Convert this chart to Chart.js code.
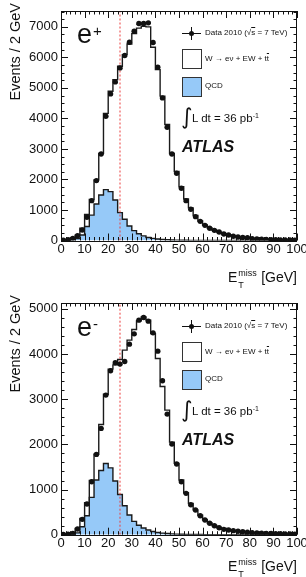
<!DOCTYPE html>
<html>
<head>
<meta charset="utf-8">
<script src="https://cdn.jsdelivr.net/npm/chart.js@4.4.1/dist/chart.umd.min.js"></script>
<style>
  body { margin: 0; background: #fff; width: 306px; height: 577px; overflow: hidden;
         font-family: "Liberation Sans", Arial, Helvetica, sans-serif; color: #111; }
  .panel { position: absolute; left: 0; width: 306px; }
  .panel canvas { position: absolute; left: 0; top: 0; }
  .ytitle { position: absolute; left: 7px; top: 3px; font-size: 14.5px; line-height: 16px;
            writing-mode: vertical-rl; transform: rotate(180deg); white-space: nowrap; }
  .xtitle { position: absolute; right: 9px; font-size: 14px; line-height: 16px; white-space: nowrap; }
  .xtitle .ss { position: relative; display: inline-block; width: 20px; height: 10px; }
  .xtitle .sup { position: absolute; left: 1px; top: -7px; font-size: 9px; }
  .xtitle .sub { position: absolute; left: 1px; top: 5px; font-size: 9px; }
  .lep { position: absolute; left: 77px; font-size: 27px; line-height: 27px; }
  .lep sup { font-size: 15px; position: relative; top: -4px; vertical-align: top; margin-left: 1px; }
  .leg { position: absolute; left: 205px; font-size: 8px; line-height: 10px; white-space: nowrap; }
  .box { position: absolute; left: 182px; width: 18px; height: 18px; border: 1px solid #333; }
  .hbar { position: absolute; left: 182px; width: 19px; height: 1px; background: #111; }
  .vbar { position: absolute; left: 191px; width: 1px; height: 13px; background: #111; }
  .dot { position: absolute; left: 189px; width: 5px; height: 5px; border-radius: 50%; background: #111; }
  .int { position: absolute; left: 181px; font-family: "DejaVu Sans", sans-serif; font-size: 22px; line-height: 26px; }
  .lumi { position: absolute; left: 192px; font-size: 11.5px; line-height: 14px; white-space: nowrap; }
  .lumi sup { font-size: 7px; vertical-align: top; position: relative; top: -2px; }
  .atlas { position: absolute; left: 182px; font-size: 16px; line-height: 18px; font-weight: bold; font-style: italic; }
  .ov { text-decoration: overline; }
</style>
</head>
<body>
<div class="panel" id="p1" style="top:0;height:290px">
  <canvas id="c1" width="306" height="290"></canvas>
</div>
<div class="panel" id="p2" style="top:292px;height:285px">
  <canvas id="c2" width="306" height="285"></canvas>
</div>
<script>
// binning of the missing transverse energy axis [GeV]
const binWidth = 2;
const xMin = 0;
const xMax = 100;
const cutValue = 25;

// e+ channel (values per 2 GeV bin, 0-2, 2-4, ... 98-100)
const ePlusData = [10, 30, 70, 160, 344, 760, 1306, 1962, 2836, 4072,
                   4803, 5197, 5656, 6060, 6498, 6858, 7110, 7110, 7131, 6486,
                   5679, 4672, 3711, 2836, 2202, 1711, 1306, 1022, 781, 628,
                   497, 399, 333, 279, 213, 180, 137, 115, 100, 95,
                   60, 50, 40, 35, 30, 25, 20, 18, 15, 12];
const ePlusMC = [10, 30, 80, 170, 400, 850, 1345, 1985, 2855, 4165,
                 4890, 5270, 5710, 6090, 6440, 6780, 6960, 7020, 7000, 6330,
                 5600, 4730, 3800, 2850, 2260, 1760, 1360, 1070, 820, 640,
                 510, 410, 335, 275, 220, 180, 145, 120, 100, 85,
                 70, 58, 48, 40, 33, 27, 22, 18, 15, 12];
const ePlusQCD = [0, 5, 20, 60, 180, 460, 830, 1197, 1492, 1667,
                  1600, 1328, 913, 695, 475, 322, 220, 150, 100, 70,
                  50, 35, 25, 18, 12, 9, 7, 5, 4, 3,
                  2, 2, 1, 1, 1, 0, 0, 0, 0, 0,
                  0, 0, 0, 0, 0, 0, 0, 0, 0, 0];

// e- channel
const eMinusData = [5, 10, 30, 126, 340, 679, 1173, 1778, 2354, 3091,
                    3629, 3806, 3777, 3836, 4219, 4447, 4750, 4809, 4728, 4469,
                    4064, 3407, 2670, 2007, 1564, 1173, 915, 664, 546, 420,
                    325, 252, 199, 155, 119, 104, 90, 75, 65, 55,
                    45, 40, 35, 30, 25, 22, 20, 18, 15, 12];
const eMinusMC = [5, 10, 40, 140, 360, 710, 1200, 1780, 2440, 3110,
                  3666, 3760, 3880, 4086, 4308, 4543, 4735, 4823, 4750, 4455,
                  3900, 3280, 2758, 2050, 1580, 1210, 930, 690, 550, 430,
                  330, 258, 203, 160, 125, 105, 90, 76, 65, 55,
                  46, 40, 34, 29, 25, 22, 19, 16, 14, 12];
const eMinusQCD = [0, 3, 10, 40, 177, 421, 827, 1210, 1420, 1575,
                   1480, 1190, 890, 640, 435, 296, 208, 148, 103, 70,
                   50, 35, 25, 18, 12, 9, 7, 5, 4, 3,
                   2, 2, 1, 1, 1, 0, 0, 0, 0, 0,
                   0, 0, 0, 0, 0, 0, 0, 0, 0, 0];

// tick labels
const xTicks = [0, 10, 20, 30, 40, 50, 60, 70, 80, 90, 100];
const ePlusYTicks = [0, 1000, 2000, 3000, 4000, 5000, 6000, 7000];
const eMinusYTicks = [0, 1000, 2000, 3000, 4000, 5000];

const font = "'Liberation Sans', Arial, Helvetica, sans-serif";

// histogram outline: one point at each lower bin edge, closed at xMax
function histPoints(values) {
    const pts = [{ x: xMin, y: 0 }];
    values.forEach((v, i) => pts.push({ x: xMin + i * binWidth, y: v }));
    pts.push({ x: xMax, y: 0 });
    return pts;
}

function dataPoints(values) {
    return values.map((v, i) => ({ x: xMin + (i + 0.5) * binWidth, y: v }));
}

// frame with inward ticks on all four sides, like the ROOT style
const frameTicks = {
    id: 'frameTicks',
    afterDatasetsDraw(chart, args, opts) {
        const { ctx, chartArea: a, scales: { x, y } } = chart;
        ctx.save();
        ctx.strokeStyle = '#111';
        ctx.lineWidth = 1;
        ctx.beginPath();
        for (let v = x.min; v <= x.max + 1e-6; v += binWidth) {
            const px = Math.round(x.getPixelForValue(v)) + 0.5;
            const len = v % 10 === 0 ? 7 : 3.5;
            ctx.moveTo(px, a.bottom); ctx.lineTo(px, a.bottom - len);
            ctx.moveTo(px, a.top); ctx.lineTo(px, a.top + len);
        }
        for (let v = 0; v <= y.max + 1e-6; v += opts.yMinor) {
            const py = Math.round(y.getPixelForValue(v)) + 0.5;
            const len = v % 1000 === 0 ? 7 : 3.5;
            ctx.moveTo(a.left, py); ctx.lineTo(a.left + len, py);
            ctx.moveTo(a.right, py); ctx.lineTo(a.right - len, py);
        }
        ctx.stroke();
        ctx.strokeRect(Math.round(a.left) + 0.5, Math.round(a.top) + 0.5,
                       Math.round(a.right - a.left) - 1, Math.round(a.bottom - a.top));
        ctx.restore();
    }
};

// horizontal bin-width bars on the data points
const dataBars = {
    id: 'dataBars',
    beforeDatasetsDraw(chart) {
        const { ctx, scales: { x, y } } = chart;
        const ds = chart.data.datasets[0];
        ctx.save();
        ctx.strokeStyle = '#111';
        ctx.lineWidth = 1;
        ctx.beginPath();
        ds.data.forEach(p => {
            const py = Math.round(y.getPixelForValue(p.y)) + 0.5;
            ctx.moveTo(x.getPixelForValue(p.x - binWidth / 2), py);
            ctx.lineTo(x.getPixelForValue(p.x + binWidth / 2), py);
        });
        ctx.stroke();
        ctx.restore();
    }
};

function makePanel(canvasId, data, mc, qcd, yTicks, yMax, yMinor, areaTop, areaBottom) {
    const canvas = document.getElementById(canvasId);
    const h = canvas.height;
    return new Chart(canvas, {
        type: 'line',
        data: {
            datasets: [
                {
                    label: 'Data 2010',
                    data: dataPoints(data),
                    showLine: false,
                    pointRadius: 2.7,
                    pointBorderWidth: 0,
                    pointBackgroundColor: '#111',
                    order: 0,
                },
                {
                    label: 'cut',
                    data: [{ x: cutValue, y: 0 }, { x: cutValue, y: yMax }],
                    borderColor: 'rgb(235, 60, 60)',
                    borderWidth: 1,
                    borderDash: [2, 2],
                    pointRadius: 0,
                    order: 1,
                },
                {
                    label: 'QCD',
                    data: histPoints(qcd),
                    stepped: 'before',
                    fill: 'origin',
                    backgroundColor: 'rgb(150, 201, 248)',
                    borderColor: '#1a1a1a',
                    borderWidth: 1.4,
                    pointRadius: 0,
                    order: 2,
                },
                {
                    label: 'W + EW + ttbar',
                    data: histPoints(mc),
                    stepped: 'before',
                    fill: false,
                    borderColor: '#1a1a1a',
                    borderWidth: 1.4,
                    pointRadius: 0,
                    order: 3,
                },
            ],
        },
        options: {
            responsive: false,
            animation: false,
            layout: { padding: { top: areaTop, right: 9, left: 0, bottom: 0 } },
            plugins: {
                legend: { display: false },
                tooltip: { enabled: false },
                frameTicks: { yMinor: yMinor },
            },
            scales: {
                x: {
                    type: 'linear',
                    min: xMin,
                    max: xMax,
                    grid: { display: false, drawTicks: false },
                    border: { display: false },
                    afterBuildTicks: s => { s.ticks = xTicks.map(v => ({ value: v })); },
                    ticks: { padding: 1, color: '#111', font: { family: font, size: 13 },
                             maxRotation: 0, autoSkip: false, callback: v => String(v) },
                    afterFit: s => { s.height = h - areaBottom; s.paddingLeft = 0; s.paddingRight = 0; },
                },
                y: {
                    min: 0,
                    max: yMax,
                    grid: { display: false, drawTicks: false },
                    border: { display: false },
                    afterBuildTicks: s => { s.ticks = yTicks.map(v => ({ value: v })); },
                    ticks: { padding: 3, color: '#111', autoSkip: false,
                             font: { family: font, size: 13 }, callback: v => String(v) },
                    afterFit: s => { s.width = 61; s.paddingTop = 0; s.paddingBottom = 0; },
                },
            },
        },
        plugins: [frameTicks, dataBars],
    });
}

makePanel('c1', ePlusData, ePlusMC, ePlusQCD, ePlusYTicks, 7520, 250, 11, 240.5);
makePanel('c2', eMinusData, eMinusMC, eMinusQCD, eMinusYTicks, 5130, 200, 11, 242.7);

// annotations: axis titles, legend, labels
function decorate(id, sign, dy, xTitleTop) {
    const p = document.getElementById(id);
    const wChannel = 'W \u2192 e\u03BD + EW + t<span class="ov">t</span>';
    p.insertAdjacentHTML('beforeend', `
      <div class="ytitle">Events / 2 GeV</div>
      <div class="xtitle" style="top:${xTitleTop}px">E<span class="ss"><span class="sup">miss</span><span class="sub">T</span></span> [GeV]</div>
      <div class="lep" style="top:${21 + dy}px">e<sup>${sign}</sup></div>
      <div class="hbar" style="top:${33 + dy}px"></div>
      <div class="vbar" style="top:${27 + dy}px"></div>
      <div class="dot" style="top:${31 + dy}px"></div>
      <div class="leg" style="top:${28 + dy}px">Data 2010 (\u221A<span class="ov">s</span> = 7 TeV)</div>
      <div class="box" style="top:${49 + dy}px;background:#fff"></div>
      <div class="leg" style="top:${54 + dy}px">${wChannel}</div>
      <div class="box" style="top:${77 + dy}px;background:rgb(150, 201, 248)"></div>
      <div class="leg" style="top:${81 + dy}px">QCD</div>
      <div class="int" style="top:${104 + dy}px">\u222B</div>
      <div class="lumi" style="top:${111 + dy}px">L dt = 36 pb<sup>-1</sup></div>
      <div class="atlas" style="top:${138 + dy}px">ATLAS</div>
    `);
}
decorate('p1', '+', 0, 269);
decorate('p2', '-', 1, 266);
</script>
</body>
</html>
